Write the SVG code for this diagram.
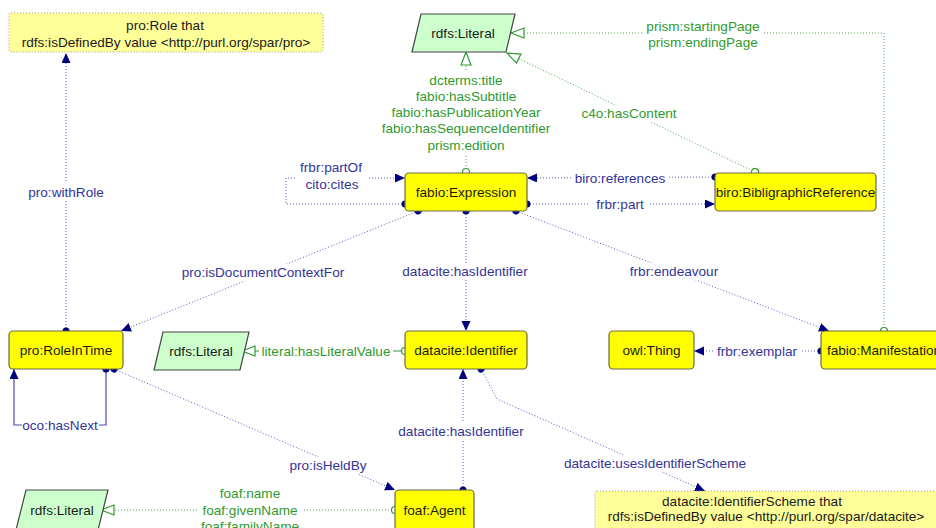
<svg xmlns="http://www.w3.org/2000/svg" width="936" height="528" viewBox="0 0 936 528">
<style>
text{font-family:"Liberation Sans",Arial,sans-serif;font-size:13.6px;text-anchor:middle}
.cls rect{fill:#ffff00;stroke:#6a6a4a;stroke-width:1.2}
.cls text{fill:#1a1a1a}
.lit polygon{fill:#ccffcc;stroke:#444;stroke-width:1.2}
.lit text{fill:#1a1a1a}
.note rect{fill:#ffff99;stroke:#999;stroke-width:1;stroke-dasharray:1,2}
.note text{fill:#1a1a1a}
.ob{fill:none;stroke:#5a5ac8;stroke-width:1;stroke-dasharray:1,2}
.obs{fill:none;stroke:#4a4aa8;stroke-width:1.2}
.dp{fill:none;stroke:#44aa44;stroke-width:1;stroke-dasharray:1,2}
.dps{fill:none;stroke:#339933;stroke-width:1.2}
.lb{fill:#333399}
.lg{fill:#2f9a2f}
.bg{fill:#fff}
</style>
<defs>
<marker id="arr" markerUnits="userSpaceOnUse" markerWidth="11" markerHeight="10" refX="10" refY="4.5" orient="auto"><path d="M0,0 L10,4.5 L0,9 z" fill="#00007f"/></marker>
<marker id="dot" markerUnits="userSpaceOnUse" markerWidth="8" markerHeight="8" refX="4" refY="4" orient="auto"><circle cx="4" cy="4" r="3.5" fill="#00007f"/></marker>
<marker id="tri" markerUnits="userSpaceOnUse" markerWidth="16" markerHeight="13" refX="14" refY="6" orient="auto"><path d="M1,1 L14,6 L1,11 z" fill="#fff" stroke="#339933" stroke-width="1.2"/></marker>
<marker id="circ" markerUnits="userSpaceOnUse" markerWidth="10" markerHeight="10" refX="5" refY="5" orient="auto"><circle cx="5" cy="5" r="3.5" fill="#fff" stroke="#339933" stroke-width="1.2"/></marker>
</defs>
<rect width="936" height="528" fill="#fff"/>

<g id="connectors">
<path class="ob" d="M66,331 L66,53" marker-start="url(#dot)" marker-end="url(#arr)"/>
<rect class="bg" x="27" y="183" width="78" height="17"/>
<text class="lb" x="66" y="196.5">pro:withRole</text>
<path class="ob" d="M418,211 L121,331" marker-start="url(#dot)" marker-end="url(#arr)"/>
<rect class="bg" x="181" y="264" width="165" height="17"/>
<text class="lb" x="263" y="276.5">pro:isDocumentContextFor</text>
<path class="ob" d="M466,211 L466,331" marker-start="url(#dot)" marker-end="url(#arr)"/>
<rect class="bg" x="400" y="263" width="130" height="17"/>
<text class="lb" x="465" y="275.5">datacite:hasIdentifier</text>
<path class="ob" d="M516,211 L829,331" marker-start="url(#dot)" marker-end="url(#arr)"/>
<rect class="bg" x="626" y="263" width="96" height="17"/>
<text class="lb" x="674" y="275.5">frbr:endeavour</text>
<path class="ob" d="M405,204 L286,204 L286,178 L405,178" marker-start="url(#dot)" marker-end="url(#arr)"/>
<rect class="bg" x="295" y="158" width="73" height="34"/>
<text class="lb" x="331" y="171.5">frbr:partOf</text>
<text class="lb" x="332" y="188.5">cito:cites</text>
<path class="ob" d="M715,177 L527,178" marker-start="url(#dot)" marker-end="url(#arr)"/>
<rect class="bg" x="572" y="170" width="96" height="16"/>
<text class="lb" x="620" y="182.5">biro:references</text>
<path class="ob" d="M527,204 L715,204" marker-start="url(#dot)" marker-end="url(#arr)"/>
<rect class="bg" x="590" y="196" width="60" height="16"/>
<text class="lb" x="620" y="208.5">frbr:part</text>
<path class="dp" d="M466,172 L466,52" marker-start="url(#circ)" marker-end="url(#tri)"/>
<rect class="bg" x="378" y="71" width="176" height="83"/>
<text class="lg" x="466" y="84.5">dcterms:title</text>
<text class="lg" x="466" y="100.5">fabio:hasSubtitle</text>
<text class="lg" x="466" y="117">fabio:hasPublicationYear</text>
<text class="lg" x="466" y="133">fabio:hasSequenceIdentifier</text>
<text class="lg" x="466" y="149.5">prism:edition</text>
<path class="dp" d="M755,172 L507,53" marker-start="url(#circ)" marker-end="url(#tri)"/>
<rect class="bg" x="580" y="105" width="99" height="17"/>
<text class="lg" x="629" y="117.5">c4o:hasContent</text>
<path class="dp" d="M884,331 L884,33 L511,33" marker-start="url(#circ)" marker-end="url(#tri)"/>
<rect class="bg" x="644" y="17" width="118" height="33"/>
<text class="lg" x="703" y="30.5">prism:startingPage</text>
<text class="lg" x="703" y="46.5">prism:endingPage</text>
<path class="dps" d="M405,351 L242,351" marker-start="url(#circ)" marker-end="url(#tri)"/>
<rect class="bg" x="259" y="343" width="134" height="17"/>
<text class="lg" x="326" y="355.5">literal:hasLiteralValue</text>
<path class="obs" d="M106,369 L106,425 L14,425 L14,369" marker-start="url(#dot)" marker-end="url(#arr)"/>
<rect class="bg" x="22" y="417" width="77" height="17"/>
<text class="lb" x="60" y="429.5">oco:hasNext</text>
<path class="ob" d="M114,369 L395,490" marker-start="url(#dot)" marker-end="url(#arr)"/>
<rect class="bg" x="290" y="457" width="76" height="17"/>
<text class="lb" x="328" y="469.5">pro:isHeldBy</text>
<path class="ob" d="M463,490 L463,369" marker-start="url(#dot)" marker-end="url(#arr)"/>
<rect class="bg" x="397" y="423" width="130" height="17"/>
<text class="lb" x="461" y="435.5">datacite:hasIdentifier</text>
<path class="ob" d="M481,369 L497,399 L705,491" marker-start="url(#dot)" marker-end="url(#arr)"/>
<rect class="bg" x="567" y="455" width="176" height="17"/>
<text class="lb" x="655" y="467.5">datacite:usesIdentifierScheme</text>
<path class="ob" d="M821,351 L694,351" marker-start="url(#dot)" marker-end="url(#arr)"/>
<rect class="bg" x="713" y="343" width="88" height="17"/>
<text class="lb" x="757" y="355.5">frbr:exemplar</text>
<path class="dp" d="M395,510 L101,510" marker-start="url(#circ)" marker-end="url(#tri)"/>
<rect class="bg" x="197" y="485" width="106" height="43"/>
<text class="lg" x="250" y="497.5">foaf:name</text>
<text class="lg" x="250" y="514.5">foaf:givenName</text>
<text class="lg" x="250" y="531">foaf:familyName</text>
</g>

<g id="note-role" class="note"><rect x="9" y="13" width="314" height="39" rx="2"/><text x="165" y="29.5">pro:Role that</text><text x="166" y="46.5">rdfs:isDefinedBy value &lt;http://purl.org/spar/pro&gt;</text></g>
<g id="literal-top" class="lit"><polygon points="421,14 515,14 506,52 412,52"/><text x="463" y="38">rdfs:Literal</text></g>
<g id="fabio-expression" class="cls"><rect x="405" y="173" width="122" height="38" rx="4"/><text x="466" y="196.5">fabio:Expression</text></g>
<g id="biro-reference" class="cls"><rect x="715" y="173" width="161" height="38" rx="4"/><text x="795.5" y="196.5">biro:BibligraphicReference</text></g>
<g id="pro-roleintime" class="cls"><rect x="9" y="331" width="114" height="38" rx="4"/><text x="66" y="355">pro:RoleInTime</text></g>
<g id="literal-mid" class="lit"><polygon points="163,332 249,332 240,370 154,370"/><text x="201" y="355.5">rdfs:Literal</text></g>
<g id="datacite-identifier" class="cls"><rect x="405" y="331" width="122" height="38" rx="4"/><text x="466" y="355">datacite:Identifier</text></g>
<g id="owl-thing" class="cls"><rect x="609" y="331" width="85" height="38" rx="4"/><text x="651.5" y="355">owl:Thing</text></g>
<g id="fabio-manifestation" class="cls"><rect x="821" y="331" width="126" height="38" rx="4"/><text x="884" y="355">fabio:Manifestation</text></g>
<g id="literal-bottom" class="lit"><polygon points="26,490 108,490 98,530 16,530"/><text x="62" y="514.5">rdfs:Literal</text></g>
<g id="foaf-agent" class="cls"><rect x="395" y="490" width="79" height="42" rx="4"/><text x="434.5" y="514.5">foaf:Agent</text></g>
<g id="note-scheme" class="note"><rect x="595" y="491" width="350" height="42" rx="2"/><text x="752" y="506">datacite:IdentifierScheme that</text><text x="766" y="520.5">rdfs:isDefinedBy value &lt;http://purl.org/spar/datacite&gt;</text></g>
</svg>
